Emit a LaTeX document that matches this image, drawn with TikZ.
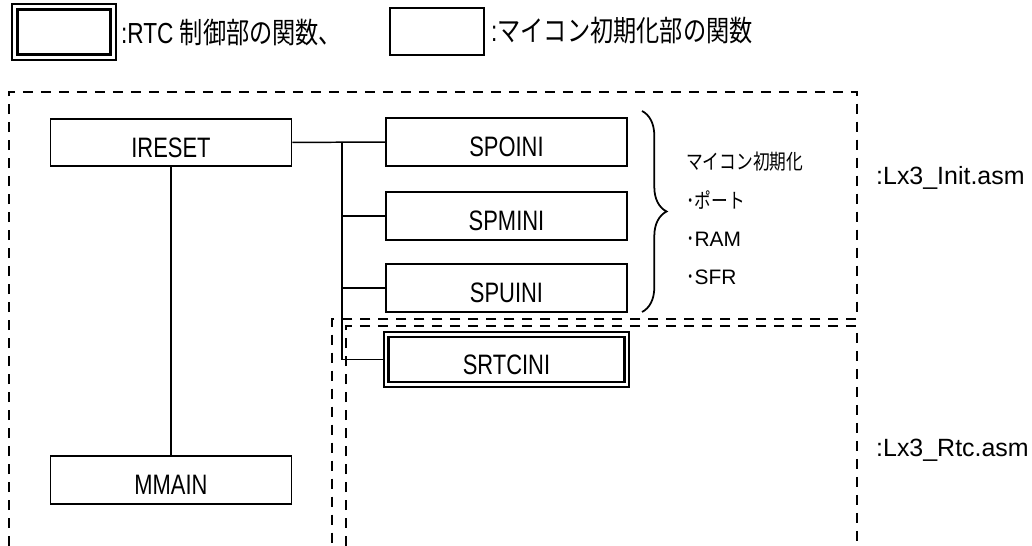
\documentclass[tikz,border=0pt]{standalone}
\usepackage{fontspec}
\setmainfont{Liberation Sans}[FakeStretch=0.78]
\newfontfamily\jpfont{Noto Sans CJK JP}[FakeStretch=0.8]
\newfontfamily\filefont{Liberation Sans}
\usetikzlibrary{decorations.pathreplacing, positioning}

\begin{document}
\begin{tikzpicture}[
    x=0.02cm, y=-0.02cm,
    func/.style={draw, line width=1.1pt, minimum width=4.82cm, minimum height=0.95cm,
        inner sep=0pt, text height=0.6cm, text depth=0cm, font=\fontsize{16}{18}\selectfont},
    rtcfunc/.style={func, double, line width=1.2pt, double distance=1.6pt, minimum height=1cm},
    link/.style={line width=0.85pt},
    area/.style={line width=1.5pt, dash pattern=on 0.2cm off 0.16cm},
    legend/.style={anchor=west, font=\fontsize{16.5}{18}\selectfont},
    fname/.style={anchor=west, font=\filefont\fontsize{14.2}{16}\selectfont},
    note/.style={anchor=west, font=\jpfont\fontsize{11.9}{14}\selectfont}
]
\useasboundingbox (0,0) rectangle (1032,546);

% Region edges
\def\leftX{9}
\def\rightX{857}
\def\topY{92}
\def\initY{319}
\def\rtcY{326}
\def\initX{332}
\def\rtcX{346}
\def\botY{546}

% Legend
\node[rtcfunc, line width=1.4pt, minimum width=1.97cm, minimum height=1.01cm] (legrtc) at (64,32) {};
\node[legend] (legrtctext) at (115,33) {:RTC {\jpfont 制御部の関数、}};
\node[func, minimum width=1.88cm, minimum height=0.94cm] (leginit) at (437,31.5) {};
\node[legend] (leginittext) at (485,31) {:{\jpfont マイコン初期化部の関数}};

% Source file regions
\draw[area] (\leftX,\botY) -- (\leftX,\topY) -- (\rightX,\topY) -- (\rightX,\initY)
    -- (\initX,\initY) -- (\initX,\botY);
\draw[area] (\rtcX,\botY) -- (\rtcX,\rtcY) -- (\rightX,\rtcY) -- (\rightX,\botY);
\node[fname] (initfile) at (870,178) {:Lx3\_Init.asm};
\node[fname] (rtcfile) at (870,450) {:Lx3\_Rtc.asm};

% Functions
\node[func] (ireset) at (171,142.5) {IRESET};
\node[func] (mmain) at (171,480) {MMAIN};
\node[func] (spoini) at (506.5,142) {SPOINI};
\node[func] (spmini) at (506.5,216) {SPMINI};
\node[func] (spuini) at (506.5,288) {SPUINI};
\node[rtcfunc] (srtcini) at (506.5,359.5) {SRTCINI};

% Calls
\coordinate (bus) at (342,142);
\draw[link] (ireset) -- (spoini);
\draw[link] (ireset) -- (mmain);
\draw[link] (bus) |- (srtcini.west);
\draw[link] (bus |- spmini.west) -- (spmini.west);
\draw[link] (bus |- spuini.west) -- (spuini.west);

% Init note
\draw[link, line width=1pt, decorate, decoration={brace, amplitude=14pt}] (642,111) -- (642,312);
\node[note] (notetitle) at (680,162) {マイコン初期化};
\node[note] (noteport) at (680,200) {･ポート};
\node[note] (noteram) at (680,239) {･{\filefont\fontsize{11.9}{14}\selectfont RAM}};
\node[note] (notesfr) at (680,277) {･{\filefont\fontsize{11.9}{14}\selectfont SFR}};

\end{tikzpicture}
\end{document}
